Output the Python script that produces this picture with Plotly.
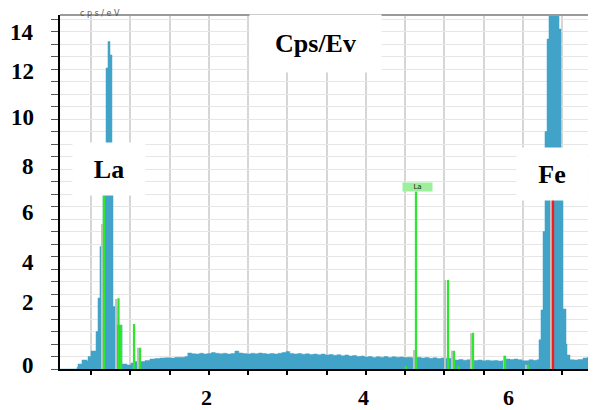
import plotly.graph_objects as go

# ---------------- data ----------------
# EDS spectrum: bin start energy (keV) and intensity (cps/eV)
spec_kev = [0.102, 0.318, 0.331, 0.382, 0.446, 0.459, 0.497, 0.561, 0.586, 0.611,
            0.650, 0.688, 0.713, 0.739, 0.764, 0.777, 0.828, 0.892, 0.955, 1.006,
            1.057, 1.134, 1.185, 1.248, 1.312, 1.376, 1.439, 1.503, 1.567, 1.631,
            1.694,
            1.73, 1.78, 1.83, 1.88, 1.93, 1.98, 2.03, 2.08, 2.13, 2.18,
            2.23, 2.28, 2.33, 2.38, 2.43, 2.48, 2.53, 2.58, 2.63, 2.68,
            2.73, 2.78, 2.83, 2.88, 2.93, 2.98, 3.03, 3.08, 3.13, 3.18,
            3.23, 3.28, 3.33, 3.38, 3.43, 3.48, 3.53, 3.58, 3.63, 3.68,
            3.73, 3.78, 3.83, 3.88, 3.93, 3.98, 4.03, 4.08, 4.13, 4.18,
            4.23, 4.28, 4.33, 4.38, 4.43, 4.48, 4.53, 4.58,
            4.650, 4.701, 4.752, 4.803, 4.854, 4.904, 4.955, 4.994, 5.057, 5.096,
            5.134, 5.185, 5.236, 5.287, 5.325, 5.376, 5.427, 5.478, 5.529, 5.580,
            5.631, 5.682, 5.732, 5.783, 5.834, 5.885, 5.936, 5.987, 6.025, 6.076,
            6.127, 6.178, 6.204, 6.229, 6.255, 6.280, 6.306, 6.331, 6.459, 6.484,
            6.510, 6.548, 6.561, 6.599, 6.650, 6.701, 6.764, 6.815, 6.854, 6.892]
spec_cps = [0.00, 0.07, 0.20, 0.36, 0.32, 0.50, 0.72, 1.50, 2.84, 4.90,
            8.50, 12.04, 13.10, 12.56, 9.00, 2.50, 1.76, 0.20, 0.16, 0.24,
            0.30, 0.30, 0.34, 0.40, 0.42, 0.44, 0.45, 0.44, 0.47, 0.47,
            0.50,
            0.64, 0.61, 0.60, 0.63, 0.60, 0.62, 0.66, 0.63, 0.61, 0.63,
            0.60, 0.62, 0.72, 0.64, 0.62, 0.60, 0.63, 0.61, 0.64, 0.62,
            0.60, 0.62, 0.60, 0.63, 0.66, 0.70, 0.62, 0.60, 0.62, 0.59,
            0.61, 0.58, 0.60, 0.57, 0.60, 0.56, 0.58, 0.55, 0.57, 0.53,
            0.56, 0.52, 0.54, 0.50, 0.52, 0.48, 0.50, 0.46, 0.49, 0.47,
            0.50, 0.46, 0.49, 0.47, 0.48, 0.46, 0.47, 0.45,
            0.47, 0.44, 0.46, 0.43, 0.45, 0.42, 0.44, 0.42, 0.43, 0.42,
            0.36, 0.38, 0.35, 0.37, 0.35, 0.34, 0.36, 0.33, 0.35, 0.33,
            0.34, 0.32, 0.33, 0.40, 0.38, 0.40, 0.37, 0.33, 0.33, 0.37,
            0.35, 0.37, 1.17, 2.36, 5.50, 9.50, 13.20, 15.00, 13.60, 8.00,
            2.40, 1.00, 0.56, 0.37, 0.36, 0.38, 0.44, 0.46, 0.64, 0.96]
spec_end_kev = 6.943

# grey marker shadows (keV, cps/eV)
grey_kev = [0.637, 0.815, 1.096, 4.611, 5.006, 5.096, 5.338, 5.758, 6.038, 6.357]
grey_cps = [5.80, 2.80, 0.85, 0.76, 3.56, 0.73, 1.43, 0.53, 0.17, 7.10]

# green element lines (keV, cps/eV)
green_kev = [0.662, 0.847, 0.879, 1.045, 1.121, 4.510, 4.637, 5.045, 5.121, 5.178,
             5.363, 5.771, 6.064]
green_cps = [7.10, 2.83, 1.76, 1.80, 0.85, 0.13, 7.10, 3.56, 0.73, 0.12,
             1.45, 0.53, 0.17]

# red element line (Fe)
red_kev = [6.382]
red_cps = [7.10]

# tick labels as drawn in the reference
y_label_text = ["0", "2", "4", "6", "8", "10", "12", "14"]
y_label_pos = [0.16, 2.66, 4.28, 6.26, 8.12, 10.06, 11.92, 13.48]
x_label_text = ["2", "4", "6"]
x_label_pos = [1.962, 3.968, 5.815]

BLUE = "#42a3c8"
GREY = "#c2c2c2"
GREEN = "#2ee62e"
RED = "#f01e1e"


def stems(xs, ys):
    X, Y = [], []
    for x, y in zip(xs, ys):
        X += [x, x, None]
        Y += [0, y, None]
    return X, Y


fig = go.Figure()

fig.add_trace(go.Scatter(
    x=spec_kev + [spec_end_kev], y=spec_cps + [spec_cps[-1]],
    mode="lines", line=dict(shape="hv", width=0.5, color=BLUE),
    fill="tozeroy", fillcolor=BLUE, hoverinfo="skip", showlegend=False))

gx, gy = stems(grey_kev, grey_cps)
fig.add_trace(go.Scatter(x=gx, y=gy, mode="lines",
                         line=dict(color=GREY, width=2), showlegend=False))
grx, gry = stems(green_kev, green_cps)
fig.add_trace(go.Scatter(x=grx, y=gry, mode="lines",
                         line=dict(color=GREEN, width=2.3), showlegend=False))
rx, ry = stems(red_kev, red_cps)
fig.add_trace(go.Scatter(x=rx, y=ry, mode="lines",
                         line=dict(color=RED, width=2.4), showlegend=False))

SERIF = "Liberation Serif"
ann = []
for t, p in zip(y_label_text, y_label_pos):
    ann.append(dict(text=f"<b>{t}</b>", xref="paper", x=0, yref="y", y=p,
                    xanchor="right", yanchor="middle", xshift=-24, showarrow=False,
                    font=dict(family=SERIF, size=23, color="black")))
for t, p in zip(x_label_text, x_label_pos):
    ann.append(dict(text=f"<b>{t}</b>", xref="x", x=p, yref="paper", y=0,
                    xanchor="center", yanchor="middle", yshift=-28, showarrow=False,
                    font=dict(family=SERIF, size=22, color="black")))

box_font = dict(family=SERIF, size=26, color="black")
ann.append(dict(text="<b>Cps/Ev</b>", x=3.357, y=13.02, xref="x", yref="y",
                showarrow=False, bgcolor="white", width=131, height=57, borderpad=0,
                font=box_font))
ann.append(dict(text="<b>La</b>", x=0.726, y=8.0, xref="x", yref="y",
                showarrow=False, bgcolor="white", width=72, height=52, borderpad=0,
                font=box_font))
ann.append(dict(text="<b>Fe</b>", x=6.369, y=7.8, xref="x", yref="y",
                showarrow=False, bgcolor="white", width=70, height=52, borderpad=0,
                font=box_font))
ann.append(dict(text="La", x=4.656, y=7.28, xref="x", yref="y",
                showarrow=False, bgcolor="#9cf09c", width=29, height=8, borderpad=0,
                font=dict(family="DejaVu Sans", size=7, color="#222")))
ann.append(dict(text="c p s / e V", x=0.611, y=1, xref="x", yref="paper",
                xanchor="center", yanchor="top", yshift=7, showarrow=False,
                borderpad=0,
                font=dict(family="DejaVu Sans", size=8, color="#555")))

# the page adds an 8 px body margin, so the figure is sized to fit inside it
fig.update_layout(
    width=588, height=402,
    margin=dict(l=52, r=0, t=7, b=41),
    paper_bgcolor="white", plot_bgcolor="white",
    showlegend=False,
    annotations=ann,
    shapes=[dict(type="line", xref="paper", yref="paper", x0=0, x1=1, y0=1, y1=1,
                 line=dict(color="#9a9a9a", width=2))],
)
fig.update_xaxes(range=[0.102, 6.930], dtick=0.5, tick0=0,
                 showgrid=True, gridcolor="#d6d6d6", gridwidth=1.6,
                 showline=True, linecolor="black", linewidth=1.5,
                 ticks="outside", ticklen=4, tickwidth=2, tickcolor="black",
                 showticklabels=False, zeroline=False)
fig.update_yaxes(range=[0, 14.16], dtick=0.5, tick0=0,
                 showgrid=True, gridcolor="#e6e6e6", gridwidth=1.3,
                 showline=True, linecolor="black", linewidth=1.5,
                 ticks="outside", ticklen=7, tickwidth=1.2, tickcolor="#555",
                 showticklabels=False, zeroline=False)

fig.write_html("out.html")
